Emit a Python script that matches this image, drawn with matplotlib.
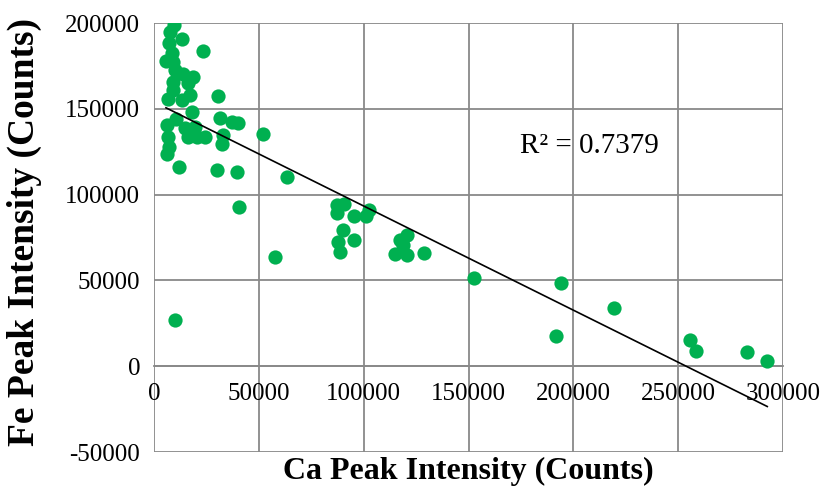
import numpy as np
import matplotlib
matplotlib.use('Agg')
import matplotlib.pyplot as plt

plt.rcParams['axes.unicode_minus'] = False

# Ca / Fe peak intensities
ca_counts = [9700, 7600, 13200, 7200, 23200, 8400, 5700, 9200, 10000, 13700,
             18800, 9200, 16400, 8900, 17200, 30700, 6800, 13500, 18000, 31500,
             6000, 10500, 37000, 40200, 14800, 19600, 6800, 16400, 20400, 24300,
             33100, 32300, 7300, 6000, 52100, 11900, 29900, 39400, 63300,
             40500, 87100, 90600, 87100, 95500, 102700, 101100, 90300, 87900,
             95400, 88700, 57700, 117300, 120500, 118900, 115000, 120500,
             128800, 10000,
             152600, 194000, 219400, 191800, 255700, 258500, 282700, 292500]
fe_counts = [198800, 194500, 190400, 188600, 183600, 182300, 178000, 177400, 172600, 170200,
             168300, 165700, 165100, 160900, 158000, 157600, 155700, 155100, 148300, 144400,
             140500, 143800, 142500, 141500, 139100, 139500, 133700, 133700, 133700, 133700,
             134700, 129400, 127800, 123600, 135300, 115800, 114300, 113300, 110300,
             92900, 93900, 94400, 89000, 87400, 91300, 87300, 79300, 72500,
             73800, 66800, 63900, 73800, 76400, 70500, 65300, 64700,
             66100, 26800,
             51500, 48600, 34200, 17500, 15500, 8900, 8300, 3100]
r2_label = 'R² = 0.7379'

x = np.array(ca_counts)
y = np.array(fe_counts)

fig = plt.figure(figsize=(8.25, 4.9), dpi=100)
ax = fig.add_axes([154/825, 1 - 452/490, (783 - 154)/825, (452 - 23)/490])

ax.scatter(x, y, s=105, color='#00B050', zorder=3, linewidths=0)

# linear trendline over the data range
slope, intercept = np.polyfit(x, y, 1)
xs = np.array([x.min(), x.max()])
ax.plot(xs, slope * xs + intercept, color='black', lw=1.2, zorder=4)

ax.set_xlim(0, 300000)
ax.set_ylim(-50000, 200000)
ax.set_xticks(np.arange(0, 300001, 50000))
ax.set_yticks(np.arange(-50000, 200001, 50000))
ax.grid(True, color='#898989', lw=1.3)
ax.set_axisbelow(True)
for s in ax.spines.values():
    s.set_visible(False)
ax.spines['bottom'].set_visible(True)
ax.spines['bottom'].set_position(('data', 0))
ax.spines['bottom'].set_color('#898989')
ax.spines['bottom'].set_linewidth(1.3)
ax.tick_params(length=0, labelsize=18, pad=12)
ax.tick_params(axis='y', pad=10)
for lab in ax.get_xticklabels() + ax.get_yticklabels():
    lab.set_fontfamily('Liberation Serif')

ax.text(207500, 128500, r2_label, fontsize=21, family='Liberation Serif',
        ha='center', va='center')

fig.text(0.568, 0.037, 'Ca Peak Intensity (Counts)', fontsize=23, fontweight='bold',
         family='Liberation Serif', ha='center', va='center')
fig.text(0.03, 0.527, 'Fe Peak Intensity (Counts)', fontsize=27, fontweight='bold',
         family='Liberation Serif', ha='center', va='center', rotation=90)

fig.savefig('out.png', dpi=100)
